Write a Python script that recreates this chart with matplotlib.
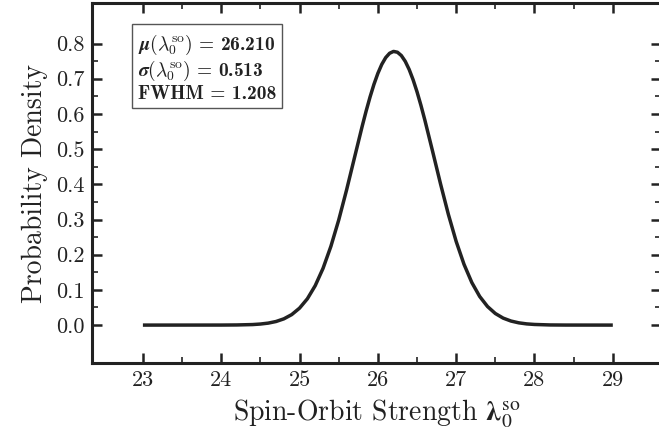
"""
Spin-orbit strength posterior density
"""
import matplotlib
matplotlib.use("Agg")
import matplotlib.pyplot as plt
from matplotlib.ticker import FixedLocator

# values
lam = [23.0, 24.0, 24.2, 24.4, 24.5, 24.6, 24.7, 24.8, 24.9,
       25.0, 25.1, 25.2, 25.3, 25.4, 25.5, 25.6, 25.7, 25.8, 25.85, 25.9, 25.95,
       26.0, 26.05, 26.1, 26.15, 26.2, 26.25, 26.3, 26.35, 26.4, 26.45, 26.5, 26.55,
       26.6, 26.7, 26.8, 26.9,
       27.0, 27.1, 27.2, 27.3, 27.4, 27.5, 27.6, 27.7, 27.8, 27.9,
       28.0, 28.2, 28.4, 29.0]
dens = [0.0, 0.0001, 0.0004, 0.0015, 0.0030, 0.0056, 0.0102, 0.0178, 0.0298,
        0.0482, 0.0748, 0.1120, 0.1612, 0.2236, 0.2984, 0.3835, 0.4744, 0.5651, 0.6080, 0.6479, 0.6840,
        0.7152, 0.7408, 0.7600, 0.7724, 0.7776, 0.7753, 0.7658, 0.7493, 0.7262, 0.6971, 0.6629, 0.6244,
        0.5825, 0.4928, 0.4014, 0.3148,
        0.2376, 0.1727, 0.1208, 0.0814, 0.0528, 0.0329, 0.0198, 0.0115, 0.0064, 0.0034,
        0.0018, 0.0004, 0.0001, 0.0]

x_major = [23, 24, 25, 26, 27, 28, 29]
x_minor = [23.5, 24.5, 25.5, 26.5, 27.5, 28.5]
y_major = [0.0, 0.1, 0.2, 0.3, 0.4, 0.5, 0.6, 0.7, 0.8]
y_minor = [0.05, 0.15, 0.25, 0.35, 0.45, 0.55, 0.65, 0.75]

stats = [r"$\boldsymbol{\mu}(\lambda_0^{\mathrm{so}})$ = 26.210",
         r"$\boldsymbol{\sigma}(\lambda_0^{\mathrm{so}})$ = 0.513",
         r"FWHM = 1.208"]

plt.rcParams["font.family"] = "serif"
plt.rcParams["font.serif"] = ["cmr10"]
plt.rcParams["mathtext.fontset"] = "cm"
plt.rcParams["axes.formatter.use_mathtext"] = True

ink = "#222222"

fig = plt.figure(figsize=(6.59, 4.38), dpi=100)
ax = fig.add_axes([0.1396, 0.171, 0.864, 0.822])

ax.plot(lam, dens, color=ink, lw=2.5, solid_capstyle="butt",
        solid_joinstyle="round")

ax.set_xlim(22.35, 29.62)
ax.set_ylim(-0.108, 0.915)
ax.xaxis.set_major_locator(FixedLocator(x_major))
ax.xaxis.set_minor_locator(FixedLocator(x_minor))
ax.yaxis.set_major_locator(FixedLocator(y_major))
ax.yaxis.set_minor_locator(FixedLocator(y_minor))
ax.yaxis.set_major_formatter(plt.FormatStrFormatter("%.1f"))
ax.xaxis.set_major_formatter(plt.FormatStrFormatter("%d"))

for sp in ax.spines.values():
    sp.set_linewidth(2.2)
    sp.set_color(ink)
ax.tick_params(which="both", direction="in", top=True, right=True, colors=ink,
               labelsize=16)
ax.tick_params(which="major", length=7, width=1.8, pad=5)
ax.tick_params(which="minor", length=4, width=1.2)

ax.set_xlabel(r"Spin-Orbit Strength $\boldsymbol{\lambda}_0^{\mathrm{so}}$",
              fontsize=20, color=ink, labelpad=6, math_fontfamily="stix")
ax.set_ylabel("Probability Density", fontsize=20, color=ink, labelpad=6)

ax.text(0.0805, 0.918, "\n".join(stats), transform=ax.transAxes, ha="left",
        va="top", fontsize=14, family="cmb10", color=ink, linespacing=1.12,
        bbox=dict(boxstyle="square,pad=0.28", fc="white", ec="#555555", lw=1.0))

fig.savefig("out.png", dpi=100)
